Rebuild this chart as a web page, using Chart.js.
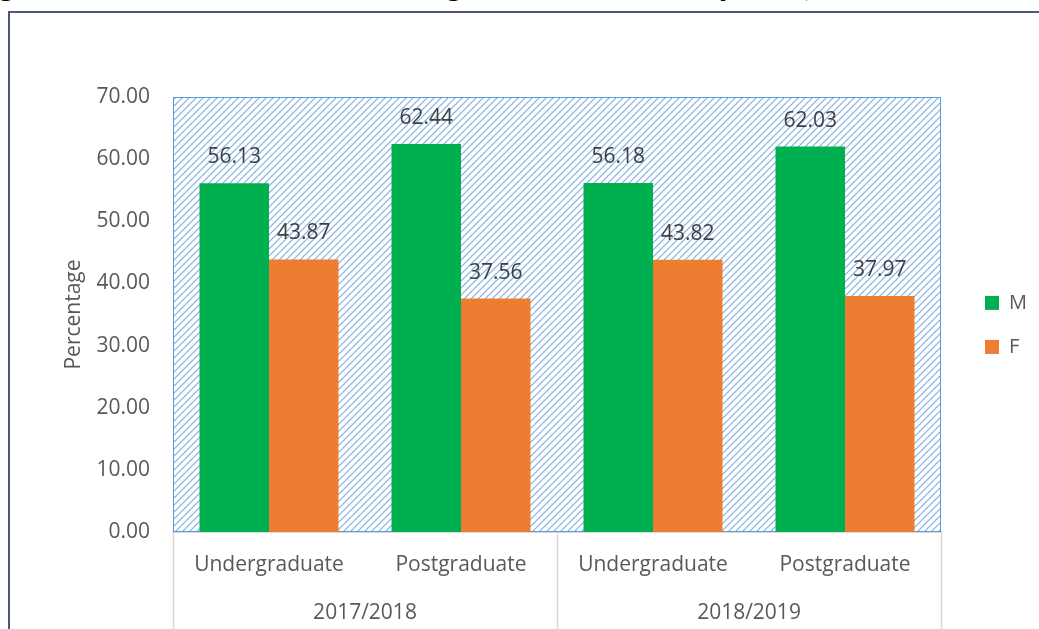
<!DOCTYPE html>
<html>
<head>
<meta charset="utf-8">
<script src="https://cdn.jsdelivr.net/npm/chart.js@4"></script>
<style>
  body { margin: 0; background: #fff; overflow: hidden; }
  #wrap { position: absolute; left: 0; top: 0; width: 1039px; height: 629px; }
  #frame { position: absolute; left: 8px; top: 11px; width: 1100px; height: 700px;
    border-left: 2px solid #4b5a72; border-top: 2px solid #4b5a72; }
  #caption { position: absolute; left: -29px; top: -32px; white-space: nowrap;
    font: bold 31px "Liberation Serif", serif; line-height: 31px; color: #000; }
</style>
</head>
<body>
<div id="caption">Figure 4: Students' Enrolment in Nigerian Universities by Sex (2017/2018 - 2018/2019)</div>
<div id="frame"></div>
<div id="wrap"><canvas id="myChart"></canvas></div>
<script>
// data
const levels = ['Undergraduate', 'Postgraduate', 'Undergraduate', 'Postgraduate']
const sessions = ['2017/2018', '2018/2019']
const male = [56.13, 62.44, 56.18, 62.03]
const female = [43.87, 37.56, 43.82, 37.97]
const seriesNames = ['M', 'F']

const font = '"Open Sans", "Liberation Sans", sans-serif'
const grey = '#595959'

function hatch(ctx) {
  const c = document.createElement('canvas')
  c.width = 7
  c.height = 7
  const g = c.getContext('2d')
  g.fillStyle = '#fff'
  g.fillRect(0, 0, 7, 7)
  g.strokeStyle = '#7fb0e2'
  g.lineWidth = 1.2
  g.beginPath()
  g.moveTo(-1, 8); g.lineTo(8, -1)
  g.moveTo(-1, 1); g.lineTo(1, -1)
  g.moveTo(6, 8); g.lineTo(8, 6)
  g.stroke()
  return ctx.createPattern(c, 'repeat')
}

// hatched plot area with thin blue border
const plotArea = {
  id: 'plotArea',
  beforeDatasetsDraw(chart) {
    const { ctx, chartArea: a } = chart
    ctx.save()
    ctx.fillStyle = hatch(ctx)
    ctx.fillRect(a.left, a.top, a.right - a.left, a.bottom - a.top)
    ctx.strokeStyle = '#5b9bd5'
    ctx.lineWidth = 1
    ctx.strokeRect(a.left + 0.5, a.top + 0.5, a.right - a.left - 1, a.bottom - a.top - 1)
    ctx.restore()
  }
}

// values above the bars
const barValues = {
  id: 'barValues',
  afterDatasetsDraw(chart) {
    const { ctx } = chart
    ctx.save()
    ctx.font = '21px ' + font
    ctx.fillStyle = '#404040'
    ctx.textAlign = 'center'
    ctx.textBaseline = 'middle'
    chart.data.datasets.forEach((ds, i) => {
      chart.getDatasetMeta(i).data.forEach((bar, j) => {
        ctx.fillText(ds.data[j].toFixed(2), bar.x, bar.y - 26)
      })
    })
    ctx.restore()
  }
}

// vertical separators between the two sessions
const groupLines = {
  id: 'groupLines',
  afterDraw(chart) {
    const { ctx, chartArea: a } = chart
    const x = chart.scales.x
    const half = (x.getPixelForTick(1) - x.getPixelForTick(0)) / 2
    const per = levels.length / sessions.length
    const xs = []
    for (let g = 0; g < sessions.length; g++) xs.push(x.getPixelForTick(g * per) - half)
    xs.push(x.getPixelForTick(levels.length - 1) + half)
    ctx.save()
    ctx.strokeStyle = '#d9d9d9'
    ctx.lineWidth = 1.5
    xs.forEach(px => {
      ctx.beginPath()
      ctx.moveTo(Math.round(px) + 0.5, a.bottom)
      ctx.lineTo(Math.round(px) + 0.5, chart.height)
      ctx.stroke()
    })
    ctx.restore()
  }
}

const data = {
  labels: levels,
  datasets: [
    { label: seriesNames[0], data: male, backgroundColor: '#00b050' },
    { label: seriesNames[1], data: female, backgroundColor: '#ed7d31' }
  ]
}

const config = {
  type: 'bar',
  data: data,
  plugins: [plotArea, barValues, groupLines],
  options: {
    responsive: true,
    maintainAspectRatio: false,
    animation: false,
    layout: { padding: { left: 13, top: 97, right: 2, bottom: 0 } },
    datasets: { bar: { categoryPercentage: 0.724, barPercentage: 1 } },
    plugins: {
      tooltip: { enabled: false },
      legend: {
        position: 'right',
        fullSize: false,
        title: { display: true, text: ' ', font: { size: 9 }, padding: 5 },
        labels: {
          boxWidth: 14,
          boxHeight: 14,
          padding: 24,
          color: grey,
          font: { family: font, size: 20 }
        }
      }
    },
    scales: {
      x: {
        type: 'category',
        position: 'bottom',
        grid: { display: false, drawTicks: false },
        border: { display: true, color: '#d9d9d9', width: 2 },
        ticks: { color: grey, padding: 20, font: { family: font, size: 21 } },
        afterFit: (s) => { s.height = 52 }
      },
      x2: {
        type: 'category',
        position: 'bottom',
        labels: sessions,
        offset: true,
        grid: { display: false, drawTicks: false },
        border: { display: false },
        ticks: { color: grey, padding: 16, font: { family: font, size: 21 } },
        afterFit: (s) => { s.height = 45 }
      },
      y: {
        min: 0,
        max: 70,
        grid: { display: false, drawTicks: false },
        border: { display: false },
        ticks: {
          stepSize: 10,
          padding: 23,
          color: grey,
          font: { family: font, size: 21 },
          callback: (v) => v.toFixed(2)
        },
        title: {
          display: true,
          text: 'Percentage',
          color: grey,
          font: { family: font, size: 21 },
          padding: { top: 48, bottom: 0 }
        },
        afterFit: (s) => { s.width = 160 }
      },
      y2: {
        position: 'right',
        display: true,
        grid: { display: false, drawTicks: false },
        border: { display: false },
        ticks: { display: false },
        afterFit: (s) => { s.width = 20 }
      }
    }
  }
}

const chart = new Chart(document.getElementById('myChart'), config)
</script>
</body>
</html>
